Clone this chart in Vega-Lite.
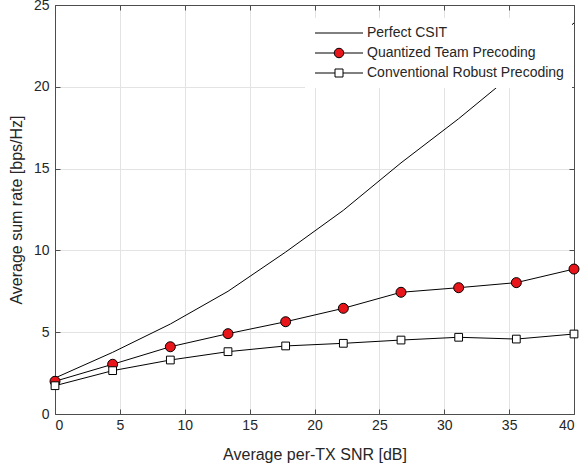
{
  "$schema": "https://vega.github.io/schema/vega-lite/v6.json",
  "autosize": "none",
  "width": 519,
  "height": 409,
  "padding": {"left": 55, "top": 5, "right": 8, "bottom": 55},
  "background": "white",
  "config": {
    "view": {"stroke": null},
    "font": "Liberation Sans",
    "axis": {
      "labelFont": "Liberation Sans",
      "titleFont": "Liberation Sans",
      "labelFontSize": 14,
      "titleFontSize": 16,
      "titleFontWeight": "normal",
      "labelColor": "#262626",
      "titleColor": "#262626",
      "domainColor": "#4d4d4d",
      "tickColor": "#4d4d4d",
      "gridColor": "#e3e3e3",
      "domainWidth": 1,
      "tickWidth": 1,
      "tickSize": -5,
      "labelPadding": 9
    },
    "legend": {
      "labelFont": "Liberation Sans",
      "labelFontSize": 14,
      "labelColor": "#262626",
      "labelLimit": 0
    }
  },
  "data": {
    "values": [
      {"snr": 0, "rate": 2.2, "series": "Perfect CSIT"},
      {"snr": 4.444, "rate": 3.77, "series": "Perfect CSIT"},
      {"snr": 8.889, "rate": 5.5, "series": "Perfect CSIT"},
      {"snr": 13.333, "rate": 7.5, "series": "Perfect CSIT"},
      {"snr": 17.778, "rate": 9.9, "series": "Perfect CSIT"},
      {"snr": 22.222, "rate": 12.45, "series": "Perfect CSIT"},
      {"snr": 26.667, "rate": 15.35, "series": "Perfect CSIT"},
      {"snr": 31.111, "rate": 18.05, "series": "Perfect CSIT"},
      {"snr": 35.556, "rate": 20.95, "series": "Perfect CSIT"},
      {"snr": 40, "rate": 23.9, "series": "Perfect CSIT"},
      {"snr": 0, "rate": 2.0, "series": "Quantized Team Precoding"},
      {"snr": 4.444, "rate": 3.04, "series": "Quantized Team Precoding"},
      {"snr": 8.889, "rate": 4.11, "series": "Quantized Team Precoding"},
      {"snr": 13.333, "rate": 4.91, "series": "Quantized Team Precoding"},
      {"snr": 17.778, "rate": 5.64, "series": "Quantized Team Precoding"},
      {"snr": 22.222, "rate": 6.46, "series": "Quantized Team Precoding"},
      {"snr": 26.667, "rate": 7.44, "series": "Quantized Team Precoding"},
      {"snr": 31.111, "rate": 7.72, "series": "Quantized Team Precoding"},
      {"snr": 35.556, "rate": 8.03, "series": "Quantized Team Precoding"},
      {"snr": 40, "rate": 8.86, "series": "Quantized Team Precoding"},
      {"snr": 0, "rate": 1.73, "series": "Conventional Robust Precoding"},
      {"snr": 4.444, "rate": 2.65, "series": "Conventional Robust Precoding"},
      {"snr": 8.889, "rate": 3.3, "series": "Conventional Robust Precoding"},
      {"snr": 13.333, "rate": 3.81, "series": "Conventional Robust Precoding"},
      {"snr": 17.778, "rate": 4.16, "series": "Conventional Robust Precoding"},
      {"snr": 22.222, "rate": 4.32, "series": "Conventional Robust Precoding"},
      {"snr": 26.667, "rate": 4.52, "series": "Conventional Robust Precoding"},
      {"snr": 31.111, "rate": 4.69, "series": "Conventional Robust Precoding"},
      {"snr": 35.556, "rate": 4.58, "series": "Conventional Robust Precoding"},
      {"snr": 40, "rate": 4.89, "series": "Conventional Robust Precoding"}
    ]
  },
  "resolve": {"axis": {"x": "independent", "y": "independent"}},
  "layer": [
    {
      "mark": {"type": "line", "color": "black", "strokeWidth": 1},
      "encoding": {
        "x": {"field": "snr", "type": "quantitative", "scale": {"domain": [0, 40], "nice": false},
              "axis": {"title": "Average per-TX SNR [dB]", "values": [0,5,10,15,20,25,30,35,40], "grid": true, "titlePadding": 14}},
        "y": {"field": "rate", "type": "quantitative", "scale": {"domain": [0, 25], "nice": false},
              "axis": {"title": "Average sum rate [bps/Hz]", "values": [0,5,10,15,20,25], "grid": true, "titlePadding": 9, "labelPadding": 11}},
        "detail": {"field": "series"}
      }
    },
    {
      "transform": [{"filter": "datum.series === 'Quantized Team Precoding'"}],
      "mark": {"type": "point", "shape": "circle", "filled": true, "fill": "#e8151b", "stroke": "black", "strokeWidth": 1, "size": 100, "opacity": 1},
      "encoding": {
        "x": {"field": "snr", "type": "quantitative", "axis": null},
        "y": {"field": "rate", "type": "quantitative", "axis": null}
      }
    },
    {
      "transform": [{"filter": "datum.series === 'Conventional Robust Precoding'"}],
      "mark": {"type": "point", "shape": "square", "filled": true, "fill": "white", "stroke": "black", "strokeWidth": 1, "size": 60, "opacity": 1},
      "encoding": {
        "x": {"field": "snr", "type": "quantitative", "axis": null},
        "y": {"field": "rate", "type": "quantitative", "axis": null}
      }
    },
    {
      "mark": {"type": "point", "opacity": 0, "filled": true, "stroke": "black"},
      "encoding": {
        "x": {"field": "snr", "type": "quantitative",
              "axis": {"orient": "top", "title": null, "labels": false, "grid": false, "values": [0,5,10,15,20,25,30,35,40]}},
        "y": {"field": "rate", "type": "quantitative",
              "axis": {"orient": "right", "title": null, "labels": false, "grid": false, "values": [0,5,10,15,20,25]}},
        "shape": {
          "field": "series", "type": "nominal",
          "scale": {
            "domain": ["Perfect CSIT", "Quantized Team Precoding", "Conventional Robust Precoding"],
            "range": [
              "M-1,0H8.6",
              "M-1,0H2.85M4.75,0A0.95,0.95 0 1,1 2.85,0A0.95,0.95 0 1,1 4.75,0ZM4.75,0H8.6",
              "M-1,0H3M3,-0.8H4.6V0.8H3ZM4.6,0H8.6"
            ]
          },
          "legend": {
            "title": null, "orient": "none", "legendX": 250, "legendY": 13,
            "fillColor": "white", "strokeColor": null, "padding": 8,
            "labelOffset": 40, "rowPadding": 6, "symbolSize": 100,
            "symbolStrokeWidth": 1, "symbolStrokeColor": "black", "symbolOpacity": 1,
            "labelFontSize": 14, "labelLimit": 0,
            "encode": {"symbols": {"update": {"opacity": {"value": 1}, "stroke": {"value": "black"}}}}
          }
        },
        "fill": {
          "field": "series", "type": "nominal",
          "scale": {
            "domain": ["Perfect CSIT", "Quantized Team Precoding", "Conventional Robust Precoding"],
            "range": ["transparent", "#e8151b", "white"]
          },
          "legend": {
            "title": null, "orient": "none", "legendX": 250, "legendY": 13,
            "fillColor": "white", "strokeColor": null, "padding": 8,
            "labelOffset": 40, "rowPadding": 6, "symbolSize": 100,
            "symbolStrokeWidth": 1, "symbolStrokeColor": "black", "symbolOpacity": 1,
            "labelFontSize": 14, "labelLimit": 0,
            "encode": {"symbols": {"update": {"opacity": {"value": 1}, "stroke": {"value": "black"}}}}
          }
        }
      }
    }
  ]
}
